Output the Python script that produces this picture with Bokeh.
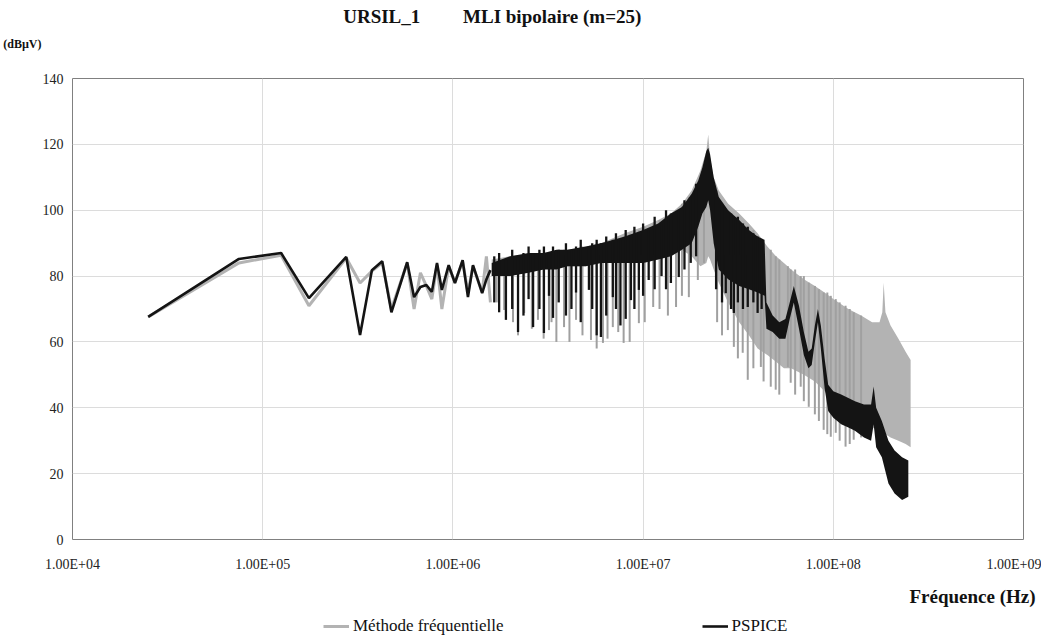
from bokeh.plotting import figure
from bokeh.layouts import column
from bokeh.models import (FixedTicker, CustomJSTickFormatter, Legend, LegendItem,
                          Title, Label, Range1d)
from bokeh.embed import file_html
from bokeh.resources import INLINE

# ---------------- data ----------------
# low-frequency harmonics (kHz) drawn as plain lines
harm_khz = [25, 75, 125, 175, 275, 325, 375, 425, 475, 575, 625, 675, 725, 775,
            825, 875, 950, 1025, 1125, 1200, 1275, 1425, 1500, 1575]
pspice_low_db = [67.6, 85.2, 87.0, 73.3, 85.8, 62.1, 81.8, 84.5, 69.0, 84.2, 73.6,
                 76.7, 77.3, 75.2, 84.0, 75.8, 83.3, 77.9, 84.8, 73.6, 83.3, 74.8,
                 79.0, 81.8]
methode_low_db = [67.6, 84.0, 86.3, 71.0, 85.5, 77.9, 81.5, 84.0, 70.0, 84.0, 70.0,
                  81.0, 77.0, 73.0, 83.5, 70.0, 83.0, 78.0, 84.5, 75.0, 83.0, 75.0,
                  86.0, 72.0]

# dense part of the PSPICE spectrum: envelope (MHz, top dB, lower core dB)
pspice_band_mhz = [1.6, 2.0, 2.5, 3.0, 3.5, 4.0, 5.0, 6.0, 7.0, 8.0,
                   10, 12, 14, 16, 18, 19.5, 20.5, 21.5, 22, 22.5,
                   23.5, 25, 28, 32, 36, 40, 43.5, 44.5, 48, 52,
                   56, 59, 62, 66, 70, 74, 77, 80, 83, 86,
                   90, 94, 100, 110, 120, 130, 145, 158, 163, 168,
                   180, 195, 210, 230, 248]
pspice_top_db = [84, 86, 87, 87, 88, 88, 89, 90, 91, 92,
                 94, 96, 99, 101, 105, 109, 113, 118, 119, 117,
                 110, 104, 100, 97, 94, 92, 91, 72, 68, 66,
                 67, 72, 77, 71, 63, 57, 58, 65, 70, 65,
                 55, 47, 45, 44, 43, 42, 41, 41, 46.5, 40,
                 36, 30, 27, 25, 24]
pspice_core_db = [80, 80, 81, 82, 82, 83, 83, 84, 84, 84,
                  84, 85, 86, 88, 90, 95, 99, 101, 103, 100,
                  90, 82, 79, 77, 76, 75, 74, 64, 63, 61,
                  61, 67, 72, 64, 56, 52, 53, 60, 66, 58,
                  46, 39, 37, 35, 34, 33, 31, 30, 35, 28,
                  25, 17, 14, 12, 13]
# individual PSPICE lines (MHz, bottom dB, top dB)
pspice_spike_mhz = [1.65, 1.75, 1.9, 2.05, 2.2, 2.35, 2.5, 2.64, 2.85, 3.01,
                    3.2, 3.36, 3.6, 3.93, 4.2, 4.44, 4.7, 5.19, 5.4, 5.7,
                    6.0, 6.4, 6.93, 7.2, 7.6, 8.1, 8.63, 9.0, 9.5, 10.0,
                    10.7, 11.5, 12.5, 13.2, 14.0, 15.4, 16.5, 17.8, 19.0, 24.2,
                    26.0, 27.2, 29.0, 30.0, 31.5, 33.5, 35.5, 38.0, 40.0, 42.0]
pspice_spike_lo = [72, 69, 66.7, 70, 63, 68, 73, 64.5, 70, 62.7,
                   74, 67.3, 72, 68, 70, 75, 66, 75.8, 70, 62,
                   61.5, 68, 73.6, 70, 65, 67, 72.7, 70, 75.8, 74,
                   78.8, 76, 80, 76, 77.9, 79.7, 82, 84, 86, 76,
                   72, 74.8, 70, 68.8, 72, 70, 70.6, 72, 68.8, 70]
pspice_spike_hi = [86, 87, 85, 88, 86, 87, 89, 87, 88, 89,
                   87, 89, 88, 90, 88, 89, 91, 89, 90, 91,
                   90, 92, 91, 93, 91, 94, 92, 95, 93, 96,
                   94, 98, 96, 100, 99, 100, 103, 104, 108, 106,
                   102, 100, 99, 98, 98, 96, 95, 93, 92, 91]

# dense part of the frequency-method spectrum
methode_band_mhz = [1.6, 2, 3, 4, 5, 6, 8, 10, 12, 14,
                    16, 18, 20, 21.5, 22, 22.5, 23.5, 25, 28, 32,
                    36, 40, 45, 50, 55, 60, 70, 80, 90, 100,
                    120, 140, 160, 175, 181, 184, 188, 200, 220, 240,
                    255]
methode_top_db = [85, 86, 87, 88, 89, 90, 93, 95, 97, 99,
                  102, 106, 112, 118, 123, 116, 110, 106, 102, 99,
                  96, 93, 89, 86, 84, 82, 79, 77, 75, 73,
                  70, 68, 66, 66, 69, 78, 69, 65, 61, 57,
                  54.5]
methode_core_db = [80, 80, 82, 83, 83, 84, 84, 84, 85, 86,
                   88, 86, 83, 84, 86, 85, 82, 78, 72, 66,
                   62, 58, 56, 54, 52, 52, 50, 48, 45, 42,
                   38, 36, 34, 33, 33, 33, 32, 31, 30, 29,
                   28]
methode_spike_mhz = [1.7, 1.86, 2.07, 2.2, 2.37, 2.6, 2.8, 3.0, 3.2, 3.3,
                     3.5, 3.84, 4.1, 4.44, 4.8, 5.32, 5.7, 6.15, 6.5, 6.93,
                     7.4, 7.9, 8.5, 9.5, 10.2, 11.3, 12.2, 13.5, 14.9, 16.0,
                     17.4, 19.4, 20.9, 24.5, 26.0, 27.9, 30.0, 31.5, 33.4, 35.5,
                     38.0, 41.6, 43.0, 46.9, 49.8, 52.0, 57.7, 59.7, 63.0, 67.4,
                     70.0, 74.3, 80.0, 84.0, 89.0, 93.0, 97.0, 103, 108, 116,
                     122, 128, 140]
methode_spike_lo = [72, 69.7, 66, 62, 68.8, 64, 66.7, 61, 63.6, 66,
                    60, 64.5, 60, 66.7, 62, 60.6, 58, 59.7, 61, 64.5,
                    63, 59.7, 60, 65.7, 66, 70.6, 70, 68, 70.6, 74,
                    73.6, 78.8, 84, 66, 62, 63.6, 58.5, 55, 56.7, 48.5,
                    52, 52.4, 48, 46.4, 45.5, 44, 52.4, 47.6, 44, 46.4,
                    42, 40.3, 38, 36, 33.3, 32, 31.2, 32.4, 30, 28.2,
                    29, 30.3, 31]
methode_spike_hi = [85, 85, 86, 86, 86, 86, 87, 87, 87, 87,
                    87, 88, 88, 88, 89, 89, 90, 90, 90, 90,
                    91, 92, 93, 94, 95, 96, 97, 98, 100, 102,
                    104, 108, 114, 104, 102, 100, 98, 98, 96, 95,
                    94, 91, 90, 88, 86, 85, 83, 82, 82, 80,
                    80, 78, 77, 76, 75, 75, 74, 73, 72, 71,
                    70, 69, 68]

x_ticks = [1e4, 1e5, 1e6, 1e7, 1e8, 1e9]
y_ticks = [0, 20, 40, 60, 80, 100, 120, 140]

GRAY = "#b3b3b3"
GRAY_DARK = "#a0a0a0"
BLACK = "#141414"
SERIF = "Liberation Serif"
W = 1041


def khz(v):
    return [f * 1e3 for f in v]


def mhz(v):
    return [f * 1e6 for f in v]


# ---------------- header strip: title + unit ----------------
head = figure(width=W, height=70, x_range=Range1d(0, 952), y_range=Range1d(0, 70),
              x_axis_location=None, y_axis_location="left", title=None,
              min_border_left=0, min_border_right=0, min_border_top=0,
              min_border_bottom=0, output_backend="svg", toolbar_location=None)
head.outline_line_color = None
head.grid.visible = False
head.background_fill_alpha = 0
ya = head.yaxis[0]
ya.ticker = FixedTicker(ticks=[27])
ya.formatter = CustomJSTickFormatter(code='return "(dB\\u00b5V)";')
ya.axis_line_color = None
ya.major_tick_line_color = None
ya.minor_tick_line_color = None
ya.major_tick_out = 0
ya.major_tick_in = 0
ya.major_label_standoff = 31
ya.major_label_text_font = SERIF
ya.major_label_text_font_style = "bold"
ya.major_label_text_font_size = "12px"
ya.major_label_text_color = "#111111"
head.add_layout(Label(x=271, y=54,
                      text="URSIL_1\u00a0\u00a0\u00a0\u00a0\u00a0\u00a0\u00a0\u00a0\u00a0MLI bipolaire (m=25)",
                      text_font=SERIF, text_font_style="bold", text_font_size="19px",
                      text_align="left", text_baseline="middle", text_color="#111111"))

# ---------------- main figure ----------------
p = figure(width=W, height=504, x_axis_type="log", title=None,
           x_range=Range1d(1e4, 1e9), y_range=Range1d(0, 140),
           output_backend="svg", toolbar_location=None,
           min_border_left=71, min_border_right=18,
           min_border_top=8, min_border_bottom=34)
p.background_fill_color = "white"
p.border_fill_color = "white"
p.outline_line_color = "#808080"
p.outline_line_width = 1

for ax in (p.xaxis[0], p.yaxis[0]):
    ax.axis_line_color = None
    ax.major_tick_line_color = None
    ax.minor_tick_line_color = None
    ax.major_tick_out = 0
    ax.major_tick_in = 0
    ax.major_label_text_font = SERIF
    ax.major_label_text_font_size = "14px"
    ax.major_label_text_color = "#222222"

p.xaxis.ticker = FixedTicker(ticks=x_ticks)
p.xaxis.formatter = CustomJSTickFormatter(code="""
    const e = Math.round(Math.log10(tick));
    return "1.00E+" + (e < 10 ? "0" + e : "" + e);
""")
p.xaxis.major_label_standoff = 17
p.yaxis.ticker = FixedTicker(ticks=y_ticks)
p.yaxis.major_label_standoff = 9

p.xgrid.ticker = FixedTicker(ticks=x_ticks)
p.ygrid.ticker = FixedTicker(ticks=y_ticks)
for g in (p.xgrid[0], p.ygrid[0]):
    g.grid_line_color = "#dcdcdc"
    g.grid_line_width = 1

# frequency-method series (grey)
p.varea(x=mhz(methode_band_mhz), y1=methode_core_db, y2=methode_top_db,
        fill_color=GRAY)
p.segment(x0=mhz(methode_spike_mhz), y0=methode_spike_lo,
          x1=mhz(methode_spike_mhz), y1=methode_spike_hi,
          line_color=GRAY_DARK, line_width=2)
p.line(khz(harm_khz), methode_low_db, line_color=GRAY, line_width=3)

# PSPICE series (black)
p.varea(x=mhz(pspice_band_mhz), y1=pspice_core_db, y2=pspice_top_db,
        fill_color=BLACK)
p.segment(x0=mhz(pspice_spike_mhz), y0=pspice_spike_lo,
          x1=mhz(pspice_spike_mhz), y1=pspice_spike_hi,
          line_color=BLACK, line_width=2.3)
p.line(khz(harm_khz), pspice_low_db, line_color=BLACK, line_width=2.6)

# ---------------- footer strip: axis name + legend ----------------
foot = figure(width=W, height=62, x_range=Range1d(0, 1), y_range=Range1d(0, 1),
              x_axis_location=None, y_axis_location=None, title=None,
              min_border_left=0, min_border_right=0, min_border_top=0,
              min_border_bottom=0, output_backend="svg", toolbar_location=None)
foot.outline_line_color = None
foot.grid.visible = False
foot.add_layout(Title(text="Fréquence (Hz)", align="left", offset=837, standoff=18,
                      text_font=SERIF, text_font_style="bold", text_font_size="19px",
                      text_color="#111111"), "above")
leg_meth = foot.line(x=[5, 6], y=[5, 6], line_color=GRAY, line_width=3)
leg_psp = foot.line(x=[5, 6], y=[5, 6], line_color=BLACK, line_width=2.6)
legend = Legend(items=[LegendItem(label="Méthode fréquentielle", renderers=[leg_meth]),
                       LegendItem(label="PSPICE", renderers=[leg_psp])],
                orientation="horizontal", location=(251, 0),
                spacing=198, padding=0, margin=0, label_standoff=4,
                glyph_width=26, glyph_height=16,
                label_text_font=SERIF, label_text_font_size="17px",
                label_text_color="#111111",
                border_line_color=None, background_fill_alpha=0)
foot.add_layout(legend, "center")

layout = column(head, p, foot, spacing=0)
open("out.html", "w").write(file_html(layout, INLINE))
